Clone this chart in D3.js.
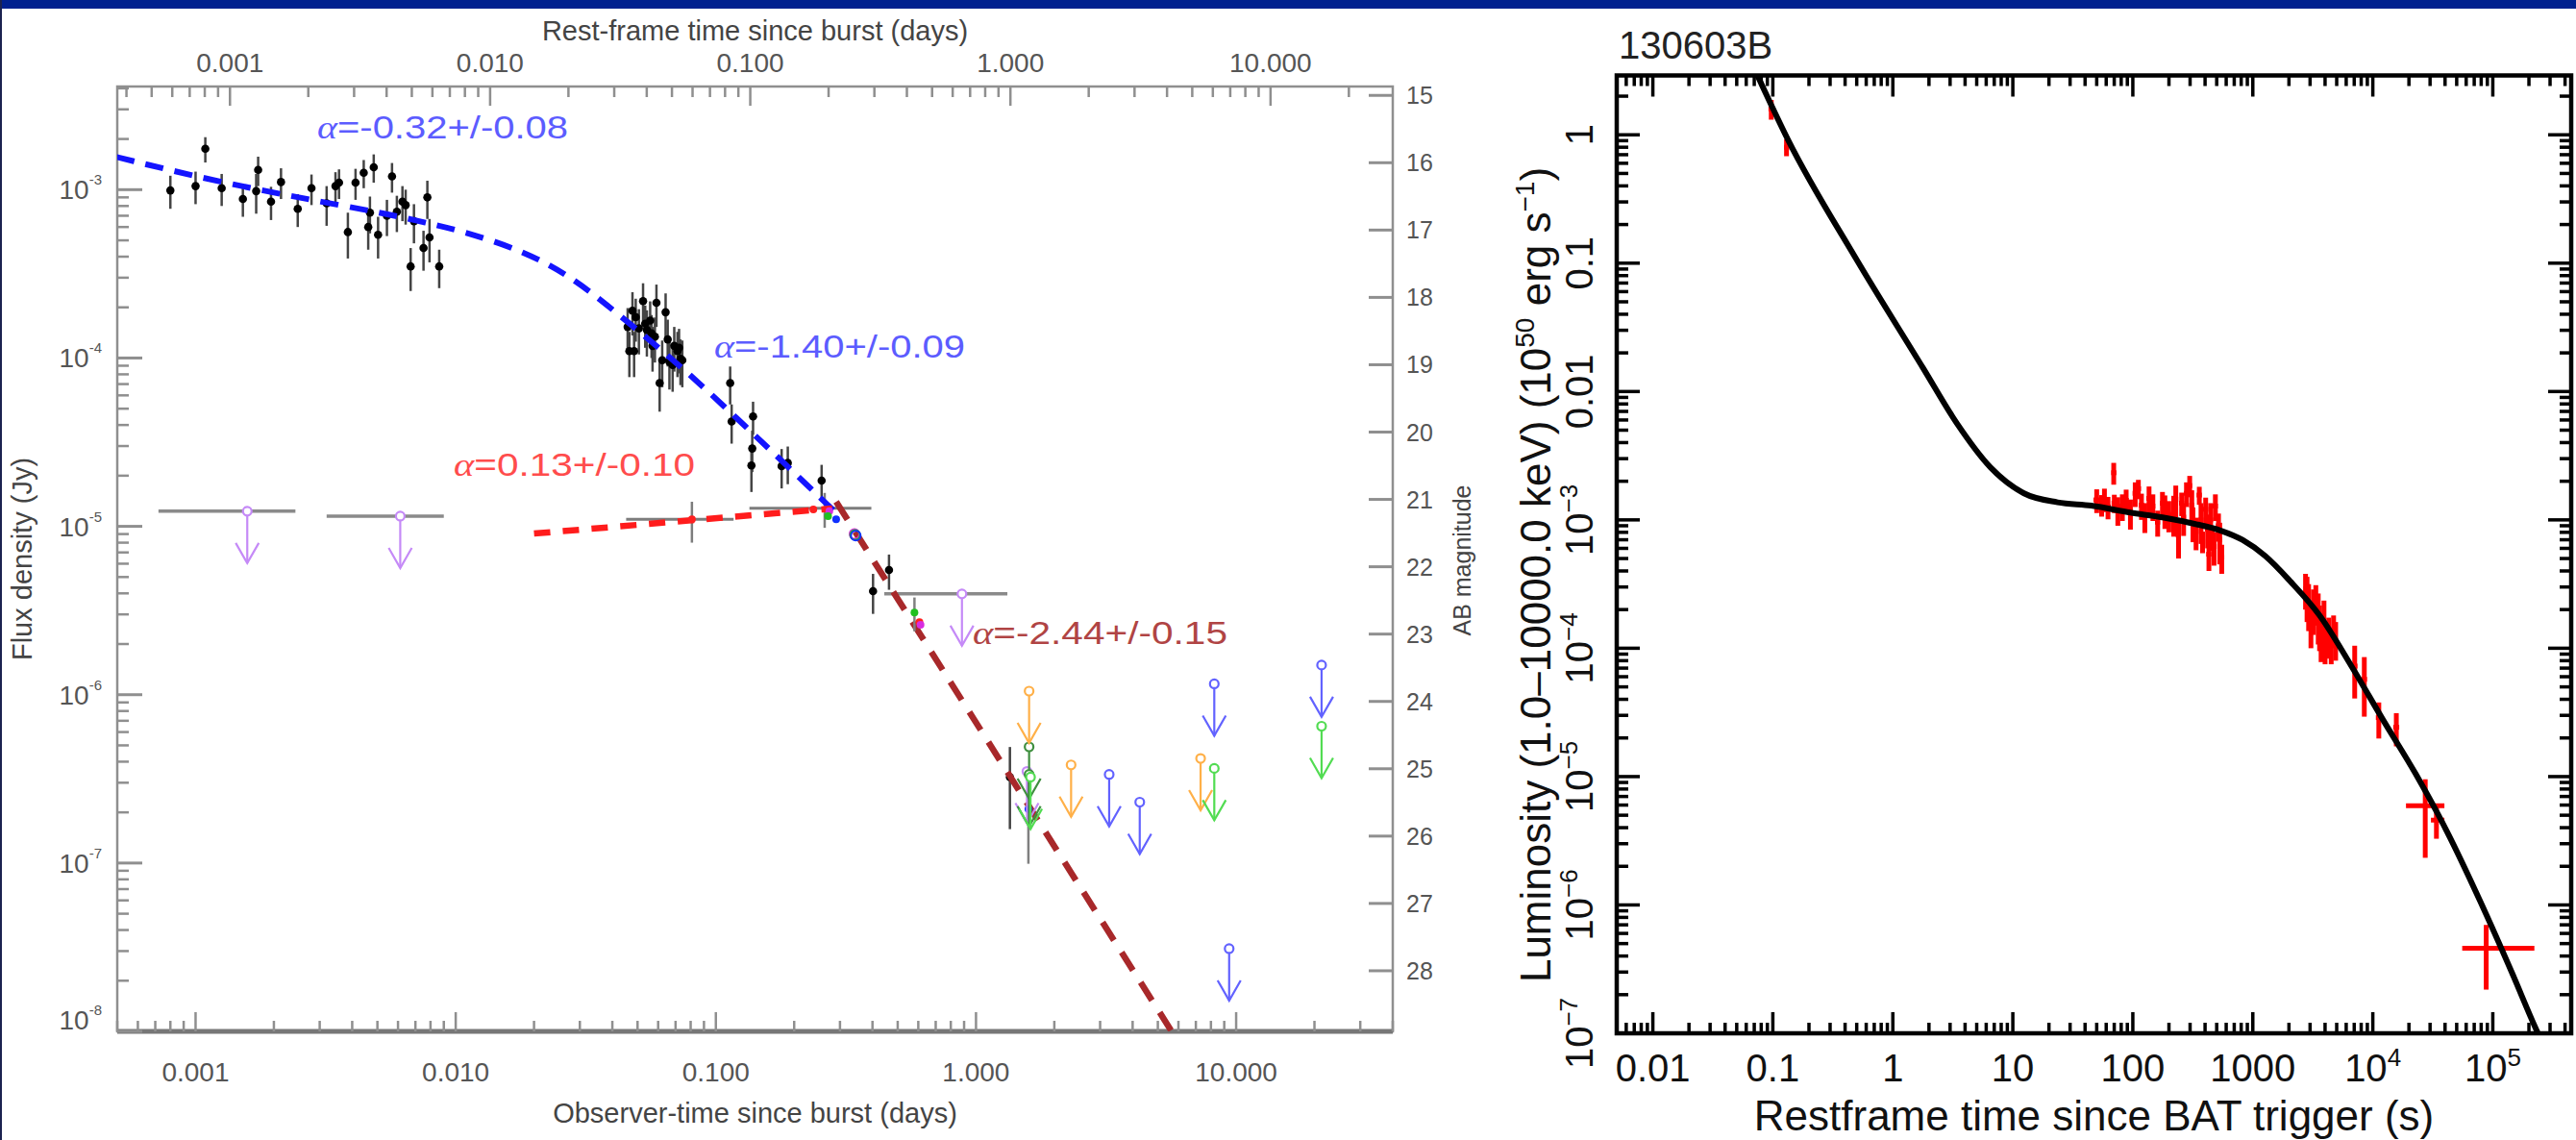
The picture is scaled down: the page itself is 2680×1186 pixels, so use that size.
<!DOCTYPE html>
<html>
<head>
<meta charset="utf-8">
<script src="https://cdn.jsdelivr.net/npm/d3@7"></script>
<style>
  html, body { margin: 0; padding: 0; background: #fff; }
  svg { display: block; font-family: "Liberation Sans", Arial, Helvetica, sans-serif; }
</style>
</head>
<body>
<svg id="chart" width="2680" height="1186"></svg>
<script>
// ---------------- GRB 130603B : optical afterglow (left) ----------------
const redshift = 0.356;

// black detections: [observer time (d), flux density (Jy), 1-sigma error (Jy)]
const blackDetections = [
  [8.0e-4, 9.9e-4, 2.2e-4], [1.00e-3, 1.05e-3, 2.3e-4], [1.09e-3, 1.75e-3, 3.0e-4],
  [1.26e-3, 1.02e-3, 2.2e-4], [1.52e-3, 8.8e-4, 1.9e-4], [1.71e-3, 9.8e-4, 2.6e-4],
  [1.74e-3, 1.31e-3, 2.6e-4], [1.95e-3, 8.5e-4, 1.9e-4], [2.13e-3, 1.11e-3, 2.3e-4],
  [2.47e-3, 7.7e-4, 1.7e-4], [2.79e-3, 1.02e-3, 2.1e-4], [3.19e-3, 8.3e-4, 2.2e-4],
  [3.45e-3, 1.05e-3, 2.2e-4], [3.56e-3, 1.10e-3, 2.2e-4], [3.85e-3, 5.6e-4, 1.7e-4],
  [4.12e-3, 1.10e-3, 2.3e-4], [4.43e-3, 1.26e-3, 2.4e-4], [4.61e-3, 6.0e-4, 1.6e-4],
  [4.68e-3, 7.3e-4, 1.8e-4], [4.84e-3, 1.36e-3, 2.6e-4], [5.03e-3, 5.4e-4, 1.5e-4],
  [5.44e-3, 7.0e-4, 1.7e-4], [5.69e-3, 1.20e-3, 2.4e-4], [5.94e-3, 7.4e-4, 1.8e-4],
  [6.24e-3, 8.5e-4, 2.0e-4], [6.42e-3, 8.1e-4, 1.9e-4], [6.71e-3, 3.5e-4, 1.0e-4],
  [6.91e-3, 6.5e-4, 1.7e-4], [7.52e-3, 4.5e-4, 1.2e-4], [7.78e-3, 9.0e-4, 2.3e-4],
  [7.93e-3, 5.2e-4, 1.5e-4], [8.64e-3, 3.5e-4, 0.9e-4],
  [0.0458, 1.53e-4, 4.5e-5], [0.0465, 1.10e-4, 3.3e-5], [0.0478, 1.91e-4, 5.5e-5],
  [0.0485, 1.10e-4, 3.3e-5], [0.0492, 1.75e-4, 5.0e-5], [0.0506, 1.50e-4, 4.5e-5],
  [0.0525, 2.18e-4, 6.0e-5], [0.0535, 1.60e-4, 4.5e-5], [0.0543, 1.47e-4, 4.5e-5],
  [0.0559, 1.67e-4, 5.0e-5], [0.0566, 1.40e-4, 4.0e-5], [0.0571, 1.18e-4, 3.5e-5],
  [0.0583, 1.34e-4, 4.0e-5], [0.0591, 2.13e-4, 6.0e-5], [0.0608, 7.1e-5, 2.3e-5],
  [0.0622, 9.7e-5, 3.0e-5], [0.0641, 1.87e-4, 5.5e-5], [0.0653, 1.29e-4, 4.0e-5],
  [0.0663, 9.5e-5, 3.0e-5], [0.0682, 9.1e-5, 2.8e-5], [0.0692, 1.18e-4, 3.5e-5],
  [0.0712, 1.10e-4, 3.3e-5], [0.0722, 1.15e-4, 3.4e-5], [0.0731, 9.9e-5, 3.0e-5],
  [0.0743, 9.7e-5, 3.0e-5],
  [0.1135, 7.1e-5, 1.8e-5], [0.115, 4.2e-5, 1.1e-5], [0.137, 2.3e-5, 0.7e-5],
  [0.138, 2.9e-5, 0.8e-5], [0.139, 4.5e-5, 1.0e-5], [0.179, 2.28e-5, 0.6e-5],
  [0.189, 2.38e-5, 0.6e-5], [0.255, 1.87e-5, 0.45e-5], [0.402, 4.12e-6, 1.1e-6],
  [0.463, 5.5e-6, 1.3e-6], [1.35, 3.24e-7, 1.65e-7]
];

// detections with a time bin: [band, time, bin start, bin end, flux, error]
const binnedDetections = [
  ["red", 0.0809, 0.0452, 0.117, 1.10e-5, 3.0e-6],
  ["none", 0.262, 0.1346, 0.396, 1.28e-5, 3.0e-6]
];

// coloured filter detections: [band, time, flux, error]
const colourDetections = [
  ["red", 0.237, 1.26e-5, 0], ["magenta", 0.273, 1.23e-5, 0],
  ["green", 0.270, 1.15e-5, 0], ["blue", 0.290, 1.10e-5, 0],
  ["green", 0.58, 3.08e-6, 7e-7], ["red", 0.606, 2.70e-6, 0],
  ["magenta", 0.612, 2.6e-6, 0], ["blue", 1.59, 2.09e-7, 1.1e-7]
];
// overlapping open markers
const colourRings = [
  ["magenta", 0.341, 9.0e-6], ["green", 0.343, 8.9e-6], ["blue", 0.345, 8.8e-6]
];

// 3-sigma upper limits: [band, time, flux, bin start, bin end]
const upperLimits = [
  ["violet", 1.58e-3, 1.23e-5, 7.2e-4, 2.42e-3],
  ["violet", 6.12e-3, 1.15e-5, 3.19e-3, 9.0e-3],
  ["violet", 0.883, 3.97e-6, 0.444, 1.32],
  ["violet", 1.57, 3.5e-7, null, null],
  ["darkgreen", 1.60, 4.9e-7, null, null],
  ["darkgreen", 1.60, 3.36e-7, null, null],
  ["green", 1.62, 3.24e-7, null, null],
  ["orange", 1.60, 1.05e-6, null, null],
  ["orange", 2.32, 3.83e-7, null, null],
  ["orange", 7.3, 4.18e-7, null, null],
  ["blue", 3.25, 3.36e-7, null, null],
  ["blue", 4.26, 2.30e-7, null, null],
  ["blue", 8.24, 1.16e-6, null, null],
  ["blue", 9.4, 3.1e-8, null, null],
  ["blue", 21.3, 1.50e-6, null, null],
  ["green", 8.24, 3.65e-7, null, null],
  ["green", 21.3, 6.5e-7, null, null]
];

// fitted models: [time, flux]
const fitBroken = [
  [4.97e-4, 1.563e-3], [1.245e-3, 1.102e-3], [3.30e-3, 8.28e-4], [5.38e-3, 7.20e-4],
  [7.59e-3, 6.40e-4], [0.01122, 5.55e-4], [0.01828, 4.30e-4], [0.02704, 3.12e-4],
  [0.0380, 2.08e-4], [0.0543, 1.318e-4], [0.0785, 8.13e-5], [0.1202, 4.40e-5],
  [0.179, 2.455e-5], [0.290, 1.202e-5]
];
const fitRise = [[0.020, 9.06e-6], [0.28, 1.277e-5]];      // alpha = 0.13
const fitDecay = [[0.29, 1.40e-5], [5.65, 1.0e-8]];        // alpha = -2.44

const fitLabels = ["-0.32+/-0.08", "-1.40+/-0.09", "0.13+/-0.10", "-2.44+/-0.15"];

const obsTicks = [0.001, 0.01, 0.1, 1, 10];
const magTicks = [15, 16, 17, 18, 19, 20, 21, 22, 23, 24, 25, 26, 27, 28];

// ---------------- X-ray luminosity light curve (right) ----------------
// [rest-frame time (s), bin start, bin end, luminosity (1e50 erg/s), error]
const xrtPoints = [
  [0.097, 0.092, 0.103, 1.59, 0.28], [0.130, 0.124, 0.137, 0.80, 0.12],
  [50.0, 47, 53, 1.43e-3, 0.30e-3], [55.0, 52, 58, 1.31e-3, 0.25e-3],
  [58.0, 55, 61, 1.45e-3, 0.30e-3], [62.1, 59, 65.5, 1.26e-3, 0.25e-3],
  [69.3, 66, 73, 2.33e-3, 0.45e-3], [70.1, 66.5, 74, 1.35e-3, 0.22e-3],
  [75.0, 71, 79, 1.20e-3, 0.30e-3], [81.8, 77.5, 86, 1.28e-3, 0.30e-3],
  [88.0, 83.5, 92.5, 1.42e-3, 0.30e-3], [95.5, 90.5, 100.5, 1.14e-3, 0.30e-3],
  [104.7, 99.5, 110, 1.61e-3, 0.35e-3], [111.2, 105.5, 117, 1.75e-3, 0.30e-3],
  [118.0, 112, 124, 1.30e-3, 0.30e-3], [125.9, 119.5, 132, 1.07e-3, 0.28e-3],
  [136.5, 129.5, 143.5, 1.47e-3, 0.35e-3], [146.9, 139.5, 154, 1.28e-3, 0.30e-3],
  [161.1, 153, 169, 9.6e-4, 2.2e-4], [176.6, 168, 185, 1.35e-3, 0.30e-3],
  [185.0, 176, 194, 1.20e-3, 0.35e-3], [199.5, 189.5, 209.5, 1.10e-3, 0.30e-3],
  [219.3, 208, 230, 1.14e-3, 0.40e-3], [228.0, 217, 239, 1.45e-3, 0.40e-3],
  [240.4, 228, 252, 7.6e-4, 2.6e-4], [255.3, 242.5, 268, 1.35e-3, 0.28e-3],
  [265.0, 252, 278, 1.05e-3, 0.30e-3], [279.9, 266, 294, 1.61e-3, 0.35e-3],
  [297.8, 283, 312.5, 1.85e-3, 0.35e-3], [310.0, 295, 325, 1.30e-3, 0.40e-3],
  [316.9, 301, 333, 9.6e-4, 2.9e-4], [336.5, 320, 353, 8.1e-4, 2.3e-4],
  [358.1, 340, 376, 1.56e-3, 0.25e-3], [370.0, 352, 388, 1.00e-3, 0.35e-3],
  [381.1, 362, 400, 6.8e-4, 1.3e-4], [404.6, 384, 425, 1.21e-3, 0.28e-3],
  [420.0, 399, 441, 8.5e-4, 2.5e-4], [430.5, 409, 452, 5.4e-4, 1.4e-4],
  [445.0, 423, 467, 1.00e-3, 0.35e-3], [458.1, 435, 481, 7.2e-4, 1.5e-4],
  [475.0, 451, 499, 6.2e-4, 1.8e-4], [487.5, 463, 512, 1.28e-3, 0.30e-3],
  [517.6, 492, 543, 9.0e-4, 2.2e-4], [530.0, 504, 556, 7.0e-4, 2.5e-4],
  [550.8, 523, 578, 5.1e-4, 1.3e-4],
  [2750, 2650, 2850, 2.9e-4, 0.9e-4], [2830, 2720, 2940, 2.6e-4, 1.0e-4],
  [2917, 2800, 3030, 2.26e-4, 0.9e-4], [3050, 2940, 3160, 1.6e-4, 0.6e-4],
  [3199, 3070, 3330, 2.07e-4, 0.8e-4], [3350, 3220, 3480, 2.3e-4, 0.8e-4],
  [3508, 3370, 3650, 1.87e-4, 0.8e-4], [3600, 3460, 3740, 1.55e-4, 0.6e-4],
  [3707, 3560, 3860, 1.28e-4, 0.5e-4], [3917, 3760, 4070, 1.75e-4, 0.6e-4],
  [4000, 3850, 4150, 1.15e-4, 0.4e-4], [4295, 4120, 4470, 1.28e-4, 0.45e-4],
  [4500, 4330, 4680, 1.10e-4, 0.35e-4], [4710, 4520, 4900, 1.40e-4, 0.40e-4],
  [4900, 4720, 5080, 1.20e-4, 0.40e-4],
  [7063, 6700, 7450, 7.26e-5, 3.2e-5], [8492, 8050, 8950, 5.73e-5, 2.8e-5],
  [11220, 10600, 11900, 2.88e-5, 0.9e-5], [15700, 14800, 16600, 2.42e-5, 0.7e-5],
  [27350, 18900, 39500, 5.93e-6, 3.6e-6], [33900, 30500, 39500, 4.58e-6, 1.3e-6],
  [88100, 55600, 222000, 4.59e-7, 2.4e-7]
];

// best-fitting model curve: [time (s), luminosity]
const xrtModel = [
  [0.0747, 2.88], [0.134, 0.912], [0.489, 0.110], [1.786, 0.01524], [3.404, 5.68e-3],
  [6.50, 2.57e-3], [12.39, 1.61e-3], [23.6, 1.37e-3], [45.1, 1.29e-3], [95.5, 1.14e-3],
  [176.6, 1.045e-3], [326.6, 9.31e-4], [534.6, 8.28e-4], [820.4, 6.98e-4], [1265, 5.24e-4],
  [2065, 3.30e-4], [3589, 1.81e-4], [6653, 7.23e-5], [12300, 2.72e-5], [22750, 1.05e-5],
  [42070, 3.64e-6], [77800, 1.09e-6], [143900, 2.99e-7], [228000, 1.09e-7], [237700, 1.0e-7]
];

const xrtTimeTicks = [0.01, 0.1, 1, 10, 100, 1000, 1e4, 1e5];
const xrtLumTicks = [1, 0.1, 0.01, 1e-3, 1e-4, 1e-5, 1e-6, 1e-7];

// ======================= drawing =======================
const svg = d3.select("#chart");
svg.append("rect").attr("width", 2680).attr("height", 1186).attr("fill", "#fff");
svg.append("rect").attr("x", 0).attr("y", 0).attr("width", 2680).attr("height", 9).attr("fill", "#00218f");
svg.append("rect").attr("x", 0).attr("y", 0).attr("width", 2).attr("height", 1186).attr("fill", "#1b2350");

const isDecade = v => Math.abs(Math.log10(v) - Math.round(Math.log10(v))) < 1e-9;
const bandColour = {
  violet: "#c58af7", orange: "#ffb048", blue: "#6262ff", green: "#52dc52",
  darkgreen: "#3f8f3f", red: "#ff2020", magenta: "#e040e8", none: "none"
};
const detColour = { red: "#ff2020", magenta: "#d82ce0", green: "#20c020", blue: "#1030ff" };

// ---------- left panel ----------
const LP = { x0: 122, x1: 1449, y0: 90, y1: 1073 };
const xObs = d3.scaleLog().domain([5e-4, 40]).range([LP.x0, LP.x1]);
const xRest = d3.scaleLog().domain([5e-4 / (1 + redshift), 40 / (1 + redshift)]).range([LP.x0, LP.x1]);
const yFlux = d3.scaleLog().domain([1e-8, 4.10e-3]).range([LP.y1, LP.y0]);
const magToFlux = m => 3631 * Math.pow(10, -0.4 * m);

const gL = svg.append("g");
const axisGrey = "#8f8f8f";
const textGrey = "#555";

gL.append("defs").append("clipPath").attr("id", "clipL")
  .append("rect").attr("x", LP.x0).attr("y", LP.y0).attr("width", LP.x1 - LP.x0).attr("height", LP.y1 - LP.y0);

// frame
gL.append("rect").attr("x", LP.x0).attr("y", LP.y0).attr("width", LP.x1 - LP.x0).attr("height", LP.y1 - LP.y0)
  .attr("fill", "none").attr("stroke", axisGrey).attr("stroke-width", 2.5);
gL.append("line").attr("x1", LP.x0).attr("x2", LP.x1).attr("y1", LP.y1).attr("y2", LP.y1)
  .attr("stroke", "#777").attr("stroke-width", 5);

// bottom (observer) and top (rest-frame) ticks
xObs.ticks().forEach(v => {
  const x = xObs(v), len = isDecade(v) ? 20 : 11;
  gL.append("line").attr("x1", x).attr("x2", x).attr("y1", LP.y1).attr("y2", LP.y1 - len)
    .attr("stroke", axisGrey).attr("stroke-width", 2.5);
});
xRest.ticks().forEach(v => {
  const x = xRest(v), len = isDecade(v) ? 20 : 11;
  gL.append("line").attr("x1", x).attr("x2", x).attr("y1", LP.y0).attr("y2", LP.y0 + len)
    .attr("stroke", axisGrey).attr("stroke-width", 2.5);
});
const fmt3 = d3.format(".3f");
obsTicks.forEach(v => {
  gL.append("text").attr("x", xObs(v)).attr("y", 1125).attr("text-anchor", "middle")
    .attr("font-size", 28).attr("fill", textGrey).text(fmt3(v));
  gL.append("text").attr("x", xRest(v)).attr("y", 75).attr("text-anchor", "middle")
    .attr("font-size", 28).attr("fill", textGrey).text(fmt3(v));
});
gL.append("text").attr("x", (LP.x0 + LP.x1) / 2).attr("y", 1168).attr("text-anchor", "middle")
  .attr("font-size", 29).attr("fill", "#444").text("Observer-time since burst (days)");
gL.append("text").attr("x", (LP.x0 + LP.x1) / 2).attr("y", 42).attr("text-anchor", "middle")
  .attr("font-size", 29).attr("fill", "#444").text("Rest-frame time since burst (days)");

// left (flux) ticks
yFlux.ticks().forEach(v => {
  const y = yFlux(v), len = isDecade(v) ? 26 : 12;
  gL.append("line").attr("x1", LP.x0).attr("x2", LP.x0 + len).attr("y1", y).attr("y2", y)
    .attr("stroke", axisGrey).attr("stroke-width", isDecade(v) ? 3 : 2.5);
  if (isDecade(v)) {
    const t = gL.append("text").attr("x", 106).attr("y", Math.min(y + 10, LP.y1 - 2))
      .attr("text-anchor", "end").attr("fill", textGrey);
    t.append("tspan").attr("font-size", 28).text("10");
    t.append("tspan").attr("font-size", 15).attr("dy", -15).text(String(Math.round(Math.log10(v))));
  }
});
gL.append("text").attr("transform", `translate(33,${(LP.y0 + LP.y1) / 2}) rotate(-90)`)
  .attr("text-anchor", "middle").attr("font-size", 29).attr("fill", "#444").text("Flux density (Jy)");

// right (AB magnitude) ticks
magTicks.forEach(m => {
  const y = yFlux(magToFlux(m));
  gL.append("line").attr("x1", LP.x1).attr("x2", LP.x1 - 25).attr("y1", y).attr("y2", y)
    .attr("stroke", axisGrey).attr("stroke-width", 3);
  gL.append("text").attr("x", 1463).attr("y", y + 9).attr("font-size", 25).attr("fill", textGrey).text(m);
});
gL.append("text").attr("transform", `translate(1530,583) rotate(-90)`)
  .attr("text-anchor", "middle").attr("font-size", 25).attr("fill", "#444").text("AB magnitude");

const plotL = gL.append("g").attr("clip-path", "url(#clipL)");

// error bars + black points
blackDetections.forEach(([t, f, e]) => {
  plotL.append("line").attr("x1", xObs(t)).attr("x2", xObs(t))
    .attr("y1", yFlux(f - e)).attr("y2", yFlux(f + e))
    .attr("stroke", "#444").attr("stroke-width", 2.5);
});
binnedDetections.forEach(([band, t, t0, t1, f, e]) => {
  plotL.append("line").attr("x1", xObs(t0)).attr("x2", xObs(t1)).attr("y1", yFlux(f)).attr("y2", yFlux(f))
    .attr("stroke", "#7d7d7d").attr("stroke-width", 3);
  plotL.append("line").attr("x1", xObs(t)).attr("x2", xObs(t)).attr("y1", yFlux(f - e)).attr("y2", yFlux(f + e))
    .attr("stroke", "#7d7d7d").attr("stroke-width", 2.5);
});
blackDetections.forEach(([t, f]) => {
  plotL.append("circle").attr("cx", xObs(t)).attr("cy", yFlux(f)).attr("r", 4.3).attr("fill", "#000");
});

// upper-limit time bins
upperLimits.filter(d => d[3] !== null).forEach(([band, t, f, t0, t1]) => {
  plotL.append("line").attr("x1", xObs(t0)).attr("x2", xObs(t1)).attr("y1", yFlux(f)).attr("y2", yFlux(f))
    .attr("stroke", "#8a8a8a").attr("stroke-width", 3.5);
});

// fitted power laws
plotL.append("path").datum(fitBroken)
  .attr("d", d3.line().x(d => xObs(d[0])).y(d => yFlux(d[1])).curve(d3.curveBasis))
  .attr("fill", "none").attr("stroke", "#1414ff").attr("stroke-width", 6).attr("stroke-dasharray", "19,12");
plotL.append("path").datum(fitRise).attr("d", d3.line().x(d => xObs(d[0])).y(d => yFlux(d[1])))
  .attr("fill", "none").attr("stroke", "#ff1c1c").attr("stroke-width", 6.5).attr("stroke-dasharray", "17,13");
plotL.append("path").datum(fitDecay).attr("d", d3.line().x(d => xObs(d[0])).y(d => yFlux(d[1])))
  .attr("fill", "none").attr("stroke", "#a8282a").attr("stroke-width", 6.5).attr("stroke-dasharray", "22,15");

// coloured detections
colourDetections.forEach(([band, t, f, e]) => {
  if (e > 0) {
    plotL.append("line").attr("x1", xObs(t)).attr("x2", xObs(t)).attr("y1", yFlux(f - e)).attr("y2", yFlux(f + e))
      .attr("stroke", "#808080").attr("stroke-width", 2.5);
  }
});
binnedDetections.filter(d => d[0] !== "none").forEach(([band, t, t0, t1, f]) => {
  plotL.append("circle").attr("cx", xObs(t)).attr("cy", yFlux(f)).attr("r", 4).attr("fill", detColour[band]);
});
colourDetections.forEach(([band, t, f]) => {
  plotL.append("circle").attr("cx", xObs(t)).attr("cy", yFlux(f)).attr("r", 4).attr("fill", detColour[band]);
});
colourRings.forEach(([band, t, f]) => {
  plotL.append("circle").attr("cx", xObs(t)).attr("cy", yFlux(f)).attr("r", 5)
    .attr("fill", "none").attr("stroke", detColour[band]).attr("stroke-width", 2);
});

// upper-limit arrows
upperLimits.forEach(([band, t, f]) => {
  const x = xObs(t), y = yFlux(f), c = bandColour[band], tip = y + 54;
  const g = plotL.append("g").attr("stroke", c).attr("stroke-width", 2.2).attr("fill", "none");
  g.append("line").attr("x1", x).attr("x2", x).attr("y1", y + 4.5).attr("y2", tip);
  g.append("polyline").attr("points", `${x - 12},${tip - 21} ${x},${tip} ${x + 12},${tip - 21}`);
  g.append("circle").attr("cx", x).attr("cy", y).attr("r", 4.5).attr("fill", "#fff");
});

// slope annotations
const alphaLabel = (x, y, value, colour, width) => {
  const t = gL.append("text").attr("x", x).attr("y", y).attr("fill", colour).attr("font-size", 33)
    .attr("textLength", width).attr("lengthAdjust", "spacingAndGlyphs");
  t.append("tspan").attr("font-family", "'Liberation Serif', serif").attr("font-style", "italic").text("α");
  t.append("tspan").text("=" + value);
};
alphaLabel(330, 144, fitLabels[0], "#5c5cff", 261);
alphaLabel(743, 372, fitLabels[1], "#5c5cff", 261);
alphaLabel(472, 495, fitLabels[2], "#ff4c4c", 251);
alphaLabel(1012, 670, fitLabels[3], "#b04444", 265);

// ---------- right panel ----------
const RP = { x0: 1682, x1: 2675, y0: 78.5, y1: 1075 };
const xR = d3.scaleLog().domain([0.005, 4.5e5]).range([RP.x0, RP.x1]);
const yR = d3.scaleLog().domain([1e-7, 2.9]).range([RP.y1, RP.y0]);
const gR = svg.append("g");

gR.append("defs").append("clipPath").attr("id", "clipR")
  .append("rect").attr("x", RP.x0).attr("y", RP.y0).attr("width", RP.x1 - RP.x0).attr("height", RP.y1 - RP.y0);

gR.append("text").attr("x", 1684).attr("y", 61).attr("font-size", 40).attr("fill", "#222").text("130603B");

xR.ticks().forEach(v => {
  const x = xR(v), len = isDecade(v) ? 22 : 11;
  gR.append("line").attr("x1", x).attr("x2", x).attr("y1", RP.y1).attr("y2", RP.y1 - len)
    .attr("stroke", "#000").attr("stroke-width", 3.5);
  gR.append("line").attr("x1", x).attr("x2", x).attr("y1", RP.y0).attr("y2", RP.y0 + len)
    .attr("stroke", "#000").attr("stroke-width", 3.5);
});
yR.ticks().forEach(v => {
  const y = yR(v), len = isDecade(v) ? 24 : 12;
  gR.append("line").attr("x1", RP.x0).attr("x2", RP.x0 + len).attr("y1", y).attr("y2", y)
    .attr("stroke", "#000").attr("stroke-width", 3.5);
  gR.append("line").attr("x1", RP.x1).attr("x2", RP.x1 - len).attr("y1", y).attr("y2", y)
    .attr("stroke", "#000").attr("stroke-width", 3.5);
});
gR.append("rect").attr("x", RP.x0).attr("y", RP.y0).attr("width", RP.x1 - RP.x0).attr("height", RP.y1 - RP.y0)
  .attr("fill", "none").attr("stroke", "#000").attr("stroke-width", 4.5);

const powLabel = (sel, v) => {
  const e = Math.round(Math.log10(v));
  if (v >= 1e4 || v <= 1e-3) {
    sel.append("tspan").text("10");
    sel.append("tspan").attr("font-size", 26).attr("dy", -16).text(e < 0 ? "\u2212" + (-e) : String(e));
  } else {
    sel.append("tspan").text(String(v));
  }
};
xrtTimeTicks.forEach(v => {
  const t = gR.append("text").attr("x", xR(v)).attr("y", 1125).attr("text-anchor", "middle")
    .attr("font-size", 40).attr("fill", "#111");
  powLabel(t, v);
});
xrtLumTicks.forEach(v => {
  const t = gR.append("text").attr("transform", `translate(1657,${yR(v)}) rotate(-90)`)
    .attr("text-anchor", "middle").attr("font-size", 40).attr("fill", "#111");
  powLabel(t, v);
});
gR.append("text").attr("x", (RP.x0 + RP.x1) / 2).attr("y", 1176).attr("text-anchor", "middle")
  .attr("font-size", 44).attr("fill", "#111").text("Restframe time since BAT trigger (s)");
{
  const t = gR.append("text").attr("transform", `translate(1613,598) rotate(-90)`)
    .attr("text-anchor", "middle").attr("font-size", 44).attr("fill", "#111");
  t.append("tspan").text("Luminosity (1.0\u201310000.0 keV) (10");
  t.append("tspan").attr("font-size", 28).attr("dy", -17).text("50");
  t.append("tspan").attr("dy", 17).text(" erg s");
  t.append("tspan").attr("font-size", 28).attr("dy", -17).text("\u22121");
  t.append("tspan").attr("dy", 17).text(")");
}

const plotR = gR.append("g").attr("clip-path", "url(#clipR)");
xrtPoints.forEach(([t, t0, t1, l, e]) => {
  plotR.append("line").attr("x1", xR(t0)).attr("x2", xR(t1)).attr("y1", yR(l)).attr("y2", yR(l))
    .attr("stroke", "#ff0000").attr("stroke-width", 5);
  plotR.append("line").attr("x1", xR(t)).attr("x2", xR(t)).attr("y1", yR(l - e)).attr("y2", yR(l + e))
    .attr("stroke", "#ff0000").attr("stroke-width", 5);
});
plotR.append("path").datum(xrtModel)
  .attr("d", d3.line().x(d => xR(d[0])).y(d => yR(d[1])).curve(d3.curveMonotoneX))
  .attr("fill", "none").attr("stroke", "#000").attr("stroke-width", 6);
</script>
</body>
</html>
